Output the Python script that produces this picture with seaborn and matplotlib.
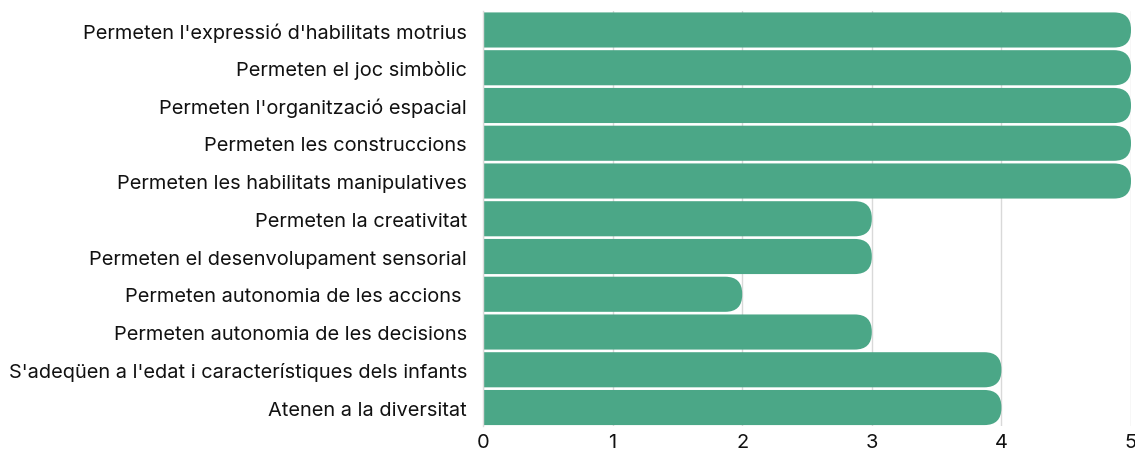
import matplotlib
matplotlib.use("Agg")
import matplotlib.pyplot as plt
import seaborn as sns
import pandas as pd
from matplotlib.patches import FancyBboxPatch

# data
labels = [
    "Permeten l'expressió d'habilitats motrius",
    "Permeten el joc simbòlic",
    "Permeten l'organització espacial",
    "Permeten les construccions",
    "Permeten les habilitats manipulatives",
    "Permeten la creativitat",
    "Permeten el desenvolupament sensorial",
    "Permeten autonomia de les accions ",
    "Permeten autonomia de les decisions",
    "S'adeqüen a l'edat i característiques dels infants",
    "Atenen a la diversitat",
]
values = [5, 5, 5, 5, 5, 3, 3, 2, 3, 4, 4]

bar_color = "#4BA787"

sns.set_style("white")
plt.rcParams['font.family'] = ['Inter', 'DejaVu Sans']

df = pd.DataFrame({'label': labels, 'value': values})

fig = plt.figure(figsize=(11.35, 4.52), dpi=100)
ax = fig.add_axes([483 / 1135, 24.6 / 452, 648 / 1135, 415.3 / 452])

sns.barplot(data=df, y='label', x='value', color=bar_color, width=0.93,
            saturation=1, ax=ax, zorder=2)

ax.set_xlim(0, 5)
ax.set_ylim(len(labels) - 0.5, -0.5)

# rounded right ends: swap each bar for a rounded box, left side clipped by the axes
px_x = 648 / 5
px_y = 415.3 / len(labels)
r_px = 17
for p in list(ax.patches):
    x0, y0 = p.get_x(), p.get_y()
    w, h = p.get_width(), p.get_height()
    p.remove()
    box = FancyBboxPatch((x0 - 1, y0), w + 1, h,
                         boxstyle="round,pad=0,rounding_size=%f" % (r_px / px_x),
                         mutation_aspect=px_x / px_y,
                         facecolor=bar_color, edgecolor='none', zorder=2)
    ax.add_patch(box)

ax.set_xticks([0, 1, 2, 3, 4, 5])
ax.xaxis.grid(True, color='#d9d9d9', linewidth=1, zorder=0)
ax.set_axisbelow(True)
for s in ax.spines.values():
    s.set_visible(False)
ax.spines['left'].set_visible(True)
ax.spines['left'].set_color('#dcdcdc')
ax.spines['left'].set_linewidth(1)
ax.tick_params(axis='both', length=0, labelsize=14.4, colors='#111111', pad=4.5)
ax.tick_params(axis='y', pad=11.5)
ax.set_xlabel('')
ax.set_ylabel('')

fig.savefig('out.png', dpi=100)
